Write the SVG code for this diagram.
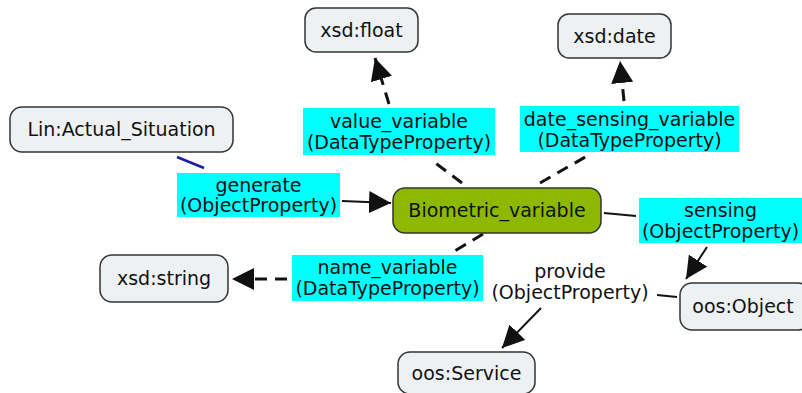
<svg xmlns="http://www.w3.org/2000/svg" width="802" height="393" viewBox="0 0 802 393">
  <style>
    text { font-family: "DejaVu Sans", "Liberation Sans", sans-serif; font-size: 19px; fill: #111; text-anchor: middle; }
    .node rect { fill: #edf1f3; stroke: #333; stroke-width: 1.5; }
    .main rect { fill: #8cb800; stroke: #333; stroke-width: 1.5; }
    .lbl rect { fill: #00ffff; stroke: none; }
    .edge { fill: none; stroke: #111; stroke-width: 2; }
    .dash { stroke-dasharray: 12 8; stroke-width: 3; }
  </style>
  <defs>
    <marker id="head" viewBox="0 0 20 20" refX="20" refY="10" markerWidth="22" markerHeight="22" markerUnits="userSpaceOnUse" orient="auto">
      <path d="M0,0 L20,10 L0,20 z" fill="#111"/>
    </marker>
  </defs>

  <!-- connectors -->
  <g id="connectors">
    <line x1="177" y1="157" x2="204" y2="168" stroke="#1c1ca8" stroke-width="2.5"/>
    <line class="edge" x1="342" y1="201" x2="391" y2="203" marker-end="url(#head)"/>
    <line class="edge dash" x1="462" y1="183" x2="434" y2="162"/>
    <line class="edge dash" x1="389" y1="104" x2="375" y2="58" marker-end="url(#head)"/>
    <line class="edge dash" x1="540" y1="183" x2="587" y2="156"/>
    <line class="edge dash" x1="624" y1="101" x2="620" y2="61" marker-end="url(#head)"/>
    <line class="edge dash" x1="483" y1="234" x2="453" y2="252"/>
    <line class="edge dash" x1="287" y1="279" x2="232" y2="279" marker-end="url(#head)"/>
    <line class="edge" x1="604" y1="213" x2="636" y2="216"/>
    <line class="edge" x1="707" y1="247" x2="686" y2="279" marker-end="url(#head)"/>
    <line class="edge" x1="677" y1="297" x2="657" y2="295"/>
    <line class="edge" x1="541" y1="308" x2="502" y2="348" marker-end="url(#head)"/>
  </g>

  <!-- concept nodes -->
  <g id="xsd-float" class="node">
    <rect x="305" y="8" width="113" height="44" rx="11"/>
    <text x="361.5" y="37">xsd:float</text>
  </g>
  <g id="xsd-date" class="node">
    <rect x="558" y="14" width="113" height="44" rx="11"/>
    <text x="614.5" y="43">xsd:date</text>
  </g>
  <g id="lin-actual-situation" class="node">
    <rect x="10" y="107" width="223" height="45" rx="12"/>
    <text x="121.5" y="136">Lin:Actual_Situation</text>
  </g>
  <g id="biometric-variable" class="main">
    <rect x="393" y="188" width="208" height="45" rx="12"/>
    <text x="497" y="217">Biometric_variable</text>
  </g>
  <g id="xsd-string" class="node">
    <rect x="100" y="255" width="128" height="47" rx="12"/>
    <text x="164" y="285">xsd:string</text>
  </g>
  <g id="oos-service" class="node">
    <rect x="398" y="352" width="137" height="42" rx="12"/>
    <text x="466.5" y="380">oos:Service</text>
  </g>
  <g id="oos-object" class="node">
    <rect x="680" y="283" width="130" height="47" rx="12"/>
    <text x="743" y="313">oos:Object</text>
  </g>

  <!-- relation labels -->
  <g id="lbl-generate" class="lbl">
    <rect x="177" y="173" width="163" height="44"/>
    <text x="258.5" y="192">generate</text>
    <text x="258.5" y="212">(ObjectProperty)</text>
  </g>
  <g id="lbl-value-variable" class="lbl">
    <rect x="303" y="108" width="192" height="47"/>
    <text x="399" y="128">value_variable</text>
    <text x="399" y="149">(DataTypeProperty)</text>
  </g>
  <g id="lbl-date-sensing-variable" class="lbl">
    <rect x="520" y="106" width="219" height="46"/>
    <text x="629.5" y="126">date_sensing_variable</text>
    <text x="629.5" y="147">(DataTypeProperty)</text>
  </g>
  <g id="lbl-name-variable" class="lbl">
    <rect x="292" y="255" width="191" height="46"/>
    <text x="387.5" y="274">name_variable</text>
    <text x="387.5" y="295">(DataTypeProperty)</text>
  </g>
  <g id="lbl-sensing" class="lbl">
    <rect x="639" y="198" width="163" height="45"/>
    <text x="720.5" y="217">sensing</text>
    <text x="720.5" y="238">(ObjectProperty)</text>
  </g>
  <g id="lbl-provide">
    <text x="570" y="278">provide</text>
    <text x="570" y="299">(ObjectProperty)</text>
  </g>
</svg>
